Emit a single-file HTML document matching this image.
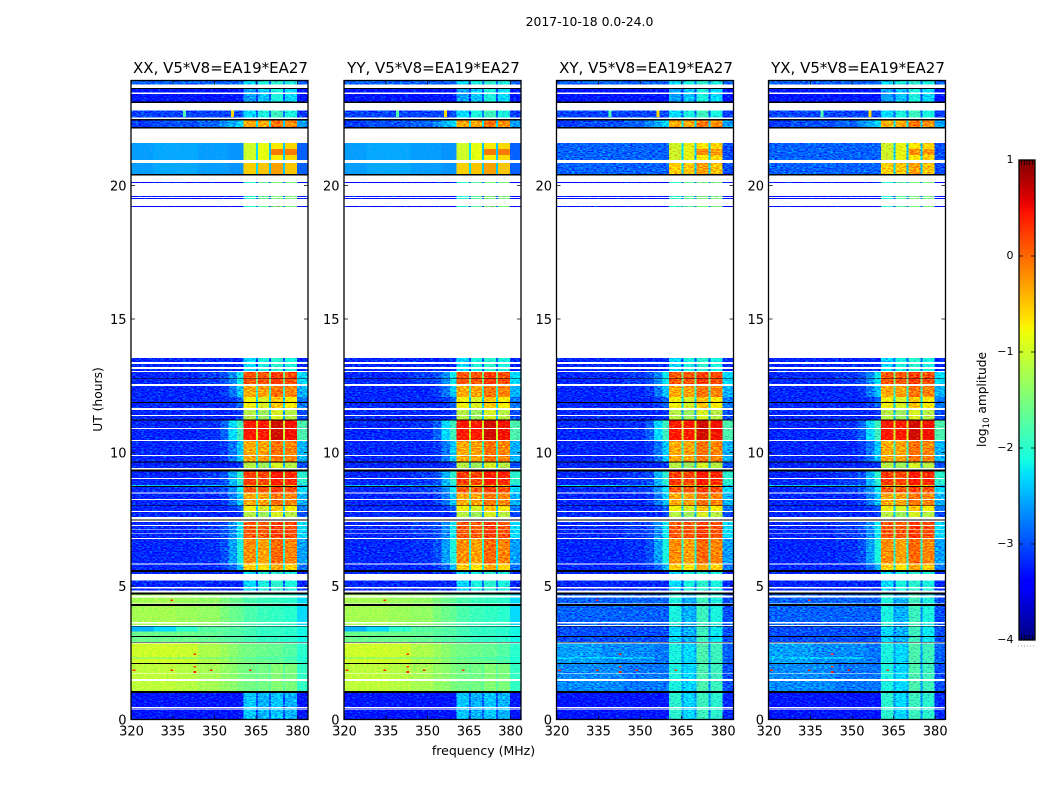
<!DOCTYPE html>
<html lang="en">
<head>
<meta charset="utf-8">
<title>Dynamic spectra 2017-10-18</title>
<style>
html,body{margin:0;padding:0;background:#fff;}
svg{display:block;}
text{font-family:"DejaVu Sans","Liberation Sans",sans-serif;fill:#000;}
</style>
</head>
<body>
<svg id="figure" width="1050" height="800" viewBox="0 0 1050 800" xmlns="http://www.w3.org/2000/svg">
<defs>
<filter id="grain" x="0" y="0" width="1" height="1" color-interpolation-filters="sRGB">
<feTurbulence type="fractalNoise" baseFrequency="0.36 0.8" numOctaves="1" seed="7" result="n"/>
<feColorMatrix in="n" type="matrix" values="0 0 0 0 0.5  1 0 0 0 0  0 0 0 0 0.5  0 0 0 0 1" result="nc"/>
<feComposite in="SourceGraphic" in2="nc" operator="arithmetic" k1="0" k2="1" k3="1.3" k4="-0.65" result="mixed"/>
<feComposite in="mixed" in2="SourceAlpha" operator="in"/>
</filter>
<filter id="grain-soft" x="0" y="0" width="1" height="1" color-interpolation-filters="sRGB">
<feTurbulence type="fractalNoise" baseFrequency="0.36 0.8" numOctaves="1" seed="11" result="n"/>
<feColorMatrix in="n" type="matrix" values="1 0 0 0 0  0 0 0 0 0.5  0 0 0 0 0.5  0 0 0 0 1" result="nc"/>
<feComposite in="SourceGraphic" in2="nc" operator="arithmetic" k1="0" k2="1" k3="0.5" k4="-0.25" result="mixed"/>
<feComposite in="mixed" in2="SourceAlpha" operator="in"/>
</filter>
<linearGradient id="jet-gradient" x1="0" y1="1" x2="0" y2="0"></linearGradient>
</defs>
<text x="589.5" y="26" font-size="12.4" text-anchor="middle">2017-10-18 0.0-24.0</text>
<text x="483.5" y="755" font-size="12.5" text-anchor="middle">frequency (MHz)</text>
<text transform="translate(102,399.5) rotate(-90)" font-size="12.3" text-anchor="middle">UT (hours)</text>
<text transform="translate(986,399.5) rotate(-90)" font-size="12.2" text-anchor="middle">log<tspan font-size="8.5" dy="3">10</tspan><tspan dy="-3"> amplitude</tspan></text>
<g id="panels"></g>
<g id="colorbar"></g>
</svg>
<script>
const panelTitles = ['XX, V5*V8=EA19*EA27', 'YY, V5*V8=EA19*EA27', 'XY, V5*V8=EA19*EA27', 'YX, V5*V8=EA19*EA27'];
const xTicks = [320, 335, 350, 365, 380];
const yTicks = [0, 5, 10, 15, 20];
const colorbarTicks = [1, 0, -1, -2, -3, -4];

/* frequency column edges, MHz */
const freqEdges = [320, 328, 336, 344, 352, 355, 358, 360.4, 365, 365.7, 369.7, 370.4, 374.7, 375.4, 379.7, 384];

/* time bands from the top of the plot downward: top edge in UT hours and what the band holds */
const bandTopUT = [
23.91,23.79,23.66,23.61,23.48,23.43,23.14,23.09,22.80,22.55,22.49,22.43,22.19,22.13,21.59,21.37,21.14,20.95,20.84,20.43,
20.37,20.13,20.09,19.61,19.57,19.53,19.49,19.23,19.19,13.53,13.39,13.31,13.20,13.13,13.05,13.01,12.78,12.75,12.57,12.49,
12.08,11.89,11.85,11.66,11.59,11.40,11.37,11.23,11.19,10.92,10.88,10.47,10.43,9.91,9.87,9.66,9.63,9.42,9.37,9.28,
9.04,9.01,8.78,8.75,8.70,8.51,8.47,8.26,8.22,8.02,8.00,7.80,7.77,7.58,7.50,7.46,7.40,7.28,7.25,7.12,
7.09,6.97,6.94,6.80,6.76,5.85,5.81,5.59,5.52,5.45,5.21,4.97,4.91,4.84,4.75,4.69,4.64,4.57,4.35,4.33,
4.26,3.66,3.60,3.54,3.50,3.48,3.30,3.12,3.09,2.91,2.88,2.85,2.35,2.27,2.12,2.08,1.73,1.70,1.52,1.45,1.07,1.00,0.47,
0.44,0.42,0.38
];
const bandKinds = [
'topLight','gap','black','topDark','gap','topDark','black','gap','topMid','gap','black','topHot','black','gap','sky','skyHot','sky','gap','skyWarm','black',
'gap','line','gap','line','gap','line','gap','line','gap','lineFaint','gap','lineFaint','gap','lineFaint','gap','warm','black','warm','gap','amber',
'yellow','black','yellow','gap','ygreen','gap','ygreen','black','hot','gap','hot','gap','amber','gap','amber','black','ygreen','gap','black','hot2',
'gap','hot2','greenline','black','warm','gap','amber','gap','amber','black','yellow','gap','ygreen','gap','black','gap','warm','gap','warm','gap',
'warm','gap','warm','gap','orange','gap','yamber','black','lineFaint','gap','lineFaint','gap','lineFaint','gap','black','green','gap','green','gap','black',
'green','gap','green','gap','black','tealStripe','teal','black','teal','black','gap','bright','brightStripe','bright','black','brightB','gap','brightB','gap','brightB','black','quiet','gap',
'quiet','gap','quiet'
];
const plotBottomUT = 0;

/* log10 amplitude per frequency column */
const parallelLevels = {
  topLight:[-2.9,-2.9,-2.9,-2.9,-2.9,-2.9,-2.9,-2.3,-2.8,-2.1,-2.8,-2.0,-2.8,-2.1,-2.9],
  topDark:[-3.3,-3.3,-3.3,-3.3,-3.3,-3.3,-3.3,-2.6,-3.1,-2.4,-3.0,-2.1,-3.0,-2.3,-3.3],
  topMid:[-3.05,-3.05,-3.05,-3.05,-3.05,-3.05,-3.0,-2.3,-2.9,-2.1,-2.8,-1.9,-2.9,-2.1,-3.1],
  topHot:[-3.1,-3.0,-3.0,-2.9,-2.7,-2.5,-2.3,-0.35,-2.2,-0.35,-2.2,-0.05,-2.3,-0.2,-2.6],
  sky:[-2.6,-2.55,-2.55,-2.6,-2.6,-2.65,-2.65,-1.0,-2.3,-0.85,-2.4,-0.7,-2.4,-0.6,-2.9],
  skyHot:[-2.6,-2.55,-2.55,-2.6,-2.6,-2.65,-2.65,-1.0,-2.3,-0.85,-2.4,-0.1,-2.4,-0.1,-2.9],
  skyWarm:[-2.6,-2.55,-2.55,-2.6,-2.6,-2.65,-2.65,-0.55,-2.3,-0.5,-2.4,-0.3,-2.4,-0.5,-2.9],
  line:[-3.4,-3.4,-3.4,-3.4,-3.4,-3.4,-3.4,-2.0,-2.9,-1.7,-2.8,-1.5,-2.8,-1.5,-3.4],
  lineFaint:[-3.2,-3.2,-3.2,-3.2,-3.2,-3.2,-3.2,-2.3,-3.0,-2.1,-2.9,-2.0,-2.9,-2.1,-3.2],
  warm:[-3.2,-3.2,-3.2,-3.1,-3.0,-2.7,-2.2,0.1,-1.5,0.1,-1.5,0.25,-1.5,0.15,-2.3],
  amber:[-3.2,-3.2,-3.2,-3.2,-3.1,-2.8,-2.4,-0.35,-1.9,-0.3,-1.9,-0.05,-1.9,-0.15,-2.5],
  yellow:[-3.2,-3.2,-3.2,-3.2,-3.2,-3.1,-2.9,-0.8,-2.3,-0.95,-2.3,-0.5,-2.3,-0.75,-2.8],
  ygreen:[-3.2,-3.2,-3.2,-3.2,-3.2,-3.2,-3.1,-1.15,-2.5,-1.3,-2.5,-0.95,-2.5,-1.15,-3.0],
  hot:[-3.2,-3.2,-3.2,-3.15,-2.9,-2.3,-1.9,0.45,-1.0,0.45,-1.0,0.65,-1.0,0.5,-1.8],
  hot2:[-3.2,-3.2,-3.2,-3.1,-3.0,-2.5,-2.0,0.25,-1.2,0.2,-1.2,0.45,-1.2,0.35,-2.0],
  greenline:[-2.4,-2.4,-2.4,-2.5,-2.6,-2.6,-2.4,-0.4,-1.6,-0.5,-1.6,-0.3,-1.6,-0.4,-2.5],
  orange:[-3.2,-3.2,-3.2,-3.15,-3.0,-2.6,-2.1,-0.2,-2.0,-0.3,-2.0,0.0,-2.0,-0.15,-2.6],
  yamber:[-3.2,-3.2,-3.2,-3.2,-3.1,-2.9,-2.5,-0.55,-2.1,-0.65,-2.1,-0.35,-2.1,-0.55,-2.8],
  green:[-1.25,-1.25,-1.3,-1.35,-1.5,-1.6,-1.65,-1.8,-1.85,-1.9,-1.9,-1.95,-1.95,-2.0,-2.3],
  teal:[-1.6,-1.6,-1.6,-1.65,-1.7,-1.75,-1.75,-1.85,-1.9,-1.95,-1.95,-1.95,-2.0,-2.0,-2.15],
  tealStripe:[-2.5,-2.3,-2.0,-1.75,-1.7,-1.75,-1.75,-1.85,-1.9,-1.95,-1.95,-1.95,-2.0,-2.0,-2.15],
  bright:[-1.0,-1.0,-1.02,-1.2,-1.3,-1.4,-1.5,-1.55,-1.6,-1.6,-1.65,-1.65,-1.7,-1.75,-2.0],
  brightStripe:[-1.3,-1.3,-1.35,-1.45,-1.5,-1.55,-1.6,-1.7,-1.75,-1.8,-1.8,-1.8,-1.85,-1.9,-2.1],
  brightB:[-1.1,-1.1,-1.15,-1.25,-1.35,-1.4,-1.5,-1.55,-1.65,-1.55,-1.7,-1.45,-1.7,-1.5,-1.95],
  quiet:[-3.3,-3.3,-3.3,-3.3,-3.3,-3.3,-3.3,-2.4,-3.0,-2.5,-2.9,-2.4,-3.0,-2.5,-3.3]
};
const crossOverrides = {
  sky:[-2.9,-2.9,-2.9,-2.9,-2.9,-2.9,-2.9,-1.0,-2.3,-0.85,-2.4,-0.7,-2.4,-0.6,-3.0],
  skyHot:[-2.9,-2.9,-2.9,-2.9,-2.9,-2.9,-2.9,-1.0,-2.3,-0.85,-2.4,-0.2,-2.4,-0.25,-3.0],
  skyWarm:[-2.9,-2.9,-2.9,-2.9,-2.9,-2.9,-2.9,-0.55,-2.3,-0.5,-2.4,-0.3,-2.4,-0.5,-3.0],
  green:[-2.9,-2.9,-2.9,-2.9,-2.9,-2.9,-2.9,-2.1,-2.7,-2.5,-2.6,-1.9,-2.7,-2.1,-3.0],
  teal:[-3.0,-3.0,-3.0,-3.0,-3.0,-3.0,-3.0,-2.3,-2.8,-2.5,-2.6,-1.9,-2.7,-2.2,-3.0],
  tealStripe:[-3.0,-3.0,-3.0,-3.0,-3.0,-3.0,-3.0,-2.3,-2.8,-2.5,-2.6,-1.9,-2.7,-2.2,-3.0],
  bright:[-2.6,-2.6,-2.7,-2.7,-2.7,-2.8,-2.8,-2.1,-2.6,-2.3,-2.5,-1.8,-2.6,-1.9,-2.9],
  brightStripe:[-2.4,-2.4,-2.4,-2.4,-2.5,-2.7,-2.8,-2.1,-2.6,-2.3,-2.5,-1.8,-2.6,-1.9,-2.9],
  brightB:[-2.7,-2.7,-2.7,-2.8,-2.8,-2.8,-2.8,-2.1,-2.6,-2.3,-2.5,-1.8,-2.6,-1.9,-3.0],
  quiet:[-3.3,-3.3,-3.3,-3.3,-3.3,-3.3,-3.3,-2.0,-2.7,-2.3,-2.7,-1.9,-2.7,-2.0,-3.2]
};
const panelLevels = [parallelLevels, parallelLevels, Object.assign({}, parallelLevels, crossOverrides), Object.assign({}, parallelLevels, crossOverrides)];
const softKinds = ['green', 'teal', 'tealStripe', 'bright', 'brightStripe', 'brightB', 'sky', 'skyHot', 'skyWarm'];
const softPanels = [true, true, false, false];

/* isolated interference spots */
const speckFreq = [334, 342.3, 320.4, 334, 348.3, 362.4, 342.3, 342.3, 338.6, 356];
const speckUT = [4.46, 2.45, 1.85, 1.85, 1.85, 1.85, 1.78, 1.98, 22.68, 22.68];
const speckLog = [0.3, 0.3, 0.3, 0.4, 0.4, 0.3, 0.4, 0.2, -1.8, -0.6];
const speckSpanUT = [0.06, 0.06, 0.06, 0.06, 0.06, 0.06, 0.06, 0.06, 0.24, 0.24];

const plotLefts = [131, 344, 556.5, 768.5];
const plotWidth = 177, plotTop = 80.5, plotHeight = 639;
const pxPerMHz = 2.77, pxPerHour = 26.7;
const logMin = -4, logMax = 1;
const NS = 'http://www.w3.org/2000/svg';

function xScale(panel, f) { return plotLefts[panel] + 0.5 + (f - 320) * pxPerMHz; }
function yScale(ut) { return plotTop + plotHeight - ut * pxPerHour; }
function lerpStops(t, s) {
  for (let i = 1; i < s.length; i++) {
    if (t <= s[i][0]) return s[i-1][1] + (s[i][1] - s[i-1][1]) * (t - s[i-1][0]) / (s[i][0] - s[i-1][0]);
  }
  return s[s.length-1][1];
}
function jet(t) {
  t = Math.max(0, Math.min(1, t));
  const r = lerpStops(t, [[0,0],[0.35,0],[0.66,1],[0.89,1],[1,0.5]]);
  const g = lerpStops(t, [[0,0],[0.125,0],[0.375,1],[0.64,1],[0.91,0],[1,0]]);
  const b = lerpStops(t, [[0,0.5],[0.11,1],[0.34,1],[0.65,0],[1,0]]);
  return 'rgb(' + Math.round(r*255) + ',' + Math.round(g*255) + ',' + Math.round(b*255) + ')';
}
function colorOf(v) { return jet((v - logMin) / (logMax - logMin)); }
function make(tag, attrs, parent) {
  const el = document.createElementNS(NS, tag);
  for (const k in attrs) el.setAttribute(k, attrs[k]);
  parent.appendChild(el);
  return el;
}

const panelsRoot = document.getElementById('panels');
panelTitles.forEach(function (title, p) {
  const panel = make('g', {}, panelsRoot);
  
  

  const noisy = make('g', { filter: 'url(#grain)', 'shape-rendering': 'crispEdges' }, panel);
  
  
  const soft = make('g', { filter: 'url(#grain-soft)', 'shape-rendering': 'crispEdges' }, panel);
  
  
  const plain = make('g', { 'shape-rendering': 'crispEdges' }, panel);
  
  

  const levels = panelLevels[p];
  const x0 = plotLefts[p], x1 = plotLefts[p] + plotWidth;
  bandKinds.forEach(function (kind, b) {
    if (kind === 'gap') return;
    const top = yScale(bandTopUT[b]);
    const bottomUT = b + 1 < bandTopUT.length ? bandTopUT[b + 1] : plotBottomUT;
    const h = yScale(bottomUT) - top;
    if (kind === 'black') {
      const flagged = make('rect', { x: x0, y: top, width: plotWidth, height: h, fill: '#000' }, plain);
      
      
      return;
    }
    const target = (softPanels[p] && softKinds.indexOf(kind) >= 0) ? soft : noisy;
    levels[kind].forEach(function (v, c) {
      const left = Math.max(x0, xScale(p, freqEdges[c]));
      const right = Math.min(x1, xScale(p, freqEdges[c + 1]));
      const cell = make('rect', { x: left, y: top, width: right - left, height: h, fill: colorOf(v) }, target);
      
      
    });
  });

  speckFreq.forEach(function (f, i) {
    const spot = make('rect', {
      x: xScale(p, f), y: yScale(speckUT[i] + speckSpanUT[i] / 2),
      width: pxPerMHz, height: speckSpanUT[i] * pxPerHour, fill: colorOf(speckLog[i])
    }, plain);
    
    
  });

  const frame = make('rect', { x: x0, y: plotTop, width: plotWidth, height: plotHeight, fill: 'none', stroke: '#000', 'stroke-width': 1.3 }, panel);
  
  

  const heading = make('text', { x: x0 + plotWidth / 2 + 1, y: 73, 'font-size': 15, 'text-anchor': 'middle' }, panel);
  heading.textContent = title;
  
  

  xTicks.forEach(function (t) {
    const x = xScale(p, t);
    const mark = make('path', { d: 'M' + x + ' ' + (plotTop + plotHeight) + 'v-4M' + x + ' ' + plotTop + 'v4', stroke: '#000', 'stroke-width': 0.8, fill: 'none' }, panel);
    
    
    const label = make('text', { x: x, y: plotTop + plotHeight + 16, 'font-size': 13, 'text-anchor': 'middle' }, panel);
    label.textContent = String(t);
    
    
  });
  yTicks.forEach(function (t) {
    const y = yScale(t);
    const mark = make('path', { d: 'M' + x0 + ' ' + y + 'h4M' + x1 + ' ' + y + 'h-4', stroke: '#000', 'stroke-width': 0.8, fill: 'none' }, panel);
    
    
    const label = make('text', { x: x0 - 4.5, y: y + 4.8, 'font-size': 13, 'text-anchor': 'end' }, panel);
    label.textContent = String(t);
    
    
  });
});

/* colorbar */
const cbX = 1019, cbY = 160, cbW = 16, cbH = 480;
const grad = document.getElementById('jet-gradient');
for (let i = 0; i <= 64; i++) {
  make('stop', { offset: (i / 64), 'stop-color': jet(i / 64) }, grad);
}
const cbRoot = document.getElementById('colorbar');
const bar = make('rect', { x: cbX, y: cbY, width: cbW, height: cbH, fill: 'url(#jet-gradient)', stroke: '#000', 'stroke-width': 1.3 }, cbRoot);


function cbScale(v) { return cbY + (logMax - v) / (logMax - logMin) * cbH; }
colorbarTicks.forEach(function (t) {
  const y = cbScale(t);
  const mark = make('path', { d: 'M' + cbX + ' ' + y + 'h4M' + (cbX + cbW) + ' ' + y + 'h-4', stroke: '#000', 'stroke-width': 0.8, fill: 'none' }, cbRoot);
  
  
  const label = make('text', { x: cbX - 5.5, y: y + 3, 'font-size': 11, 'text-anchor': 'end' }, cbRoot);
  label.textContent = String(t).replace('-', '\u2212');
  
  
});
for (let i = 1; i < 6; i++) {
  const x = cbX + i * cbW / 6;
  const mt = make('path', { d: 'M' + x + ' ' + cbY + 'v5M' + x + ' ' + (cbY + cbH) + 'v-5', stroke: '#000', 'stroke-width': 0.7, fill: 'none' }, cbRoot);
  
  
}
const dots = make('path', { d: 'M1018 646h18', stroke: '#999', 'stroke-width': 1, 'stroke-dasharray': '1 2', fill: 'none' }, cbRoot);


</script>
</body>
</html>
